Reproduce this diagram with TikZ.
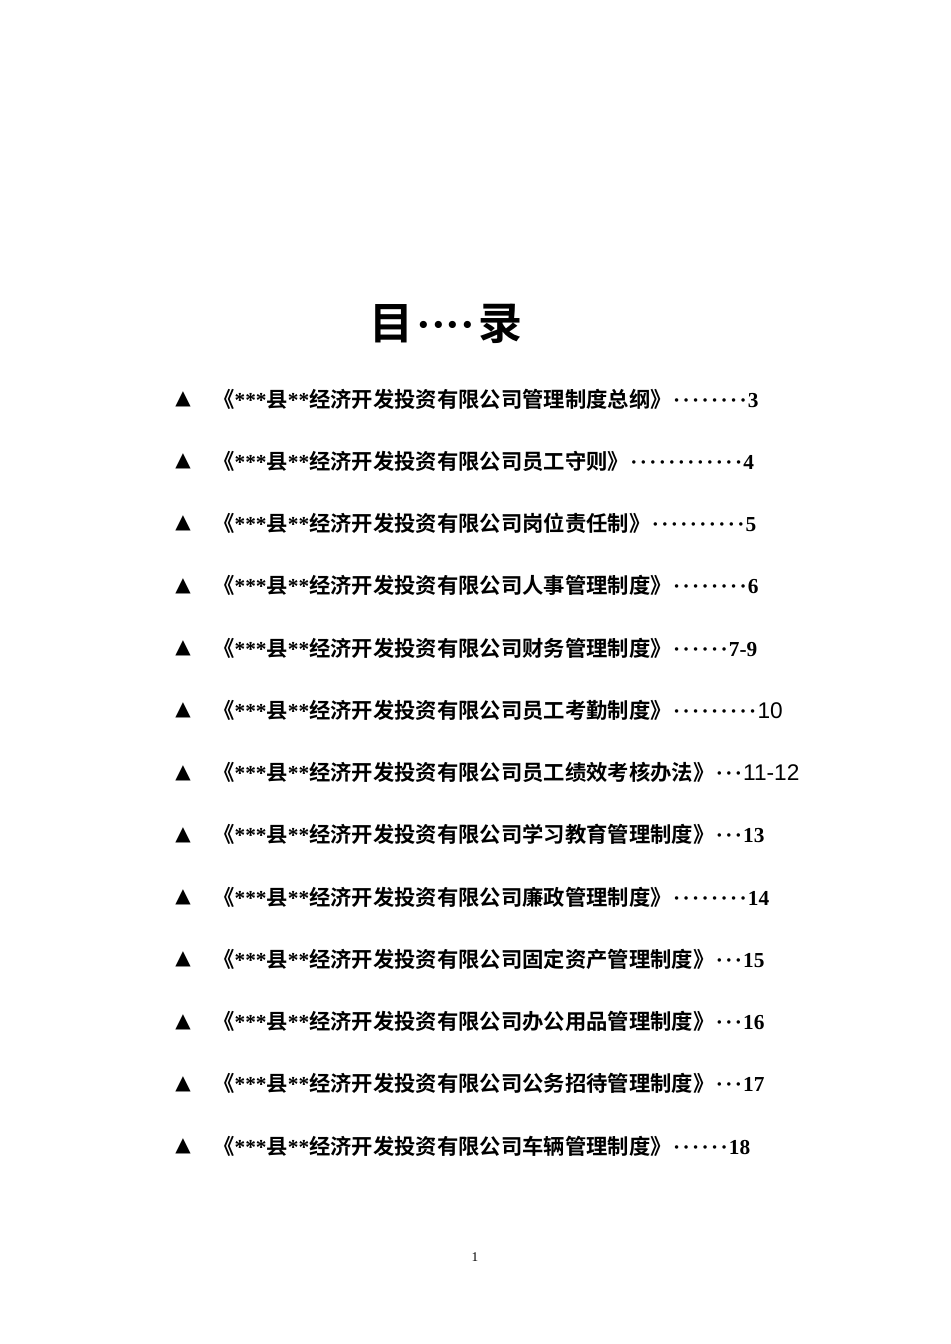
\documentclass[tikz,border=0pt]{standalone}
\usepackage{fontspec}
\setmainfont{Liberation Serif}
\newfontfamily\cjk{Noto Sans CJK SC}[BoldFont={Noto Sans CJK SC Bold}]
\newfontfamily\dvs{DejaVu Sans}
\newfontfamily\lsans{Liberation Sans}
\newcommand\mydd[1]{{\rmfamily\bfseries\foreach \i in {1,...,#1}{\kern0.9pt·\kern0.9pt}}}
\newcommand\myast{{\rmfamily\bfseries ***}}
\newcommand\myrow[3]{\node[rowtext] at (213,#1) {\cjk\bfseries 《\myast 县{\rmfamily\bfseries **}经济开发投资有限公司#2》#3};}
\begin{document}
\begin{tikzpicture}[x=0.75pt,y=-0.75pt,
  rowtext/.style={anchor=west,inner sep=0pt,font=\fontsize{16}{19}\selectfont},
  tri/.style={inner sep=0pt,font=\dvs\fontsize{15}{18}\selectfont}]
\useasboundingbox (0,0) rectangle (950,1344);
\node[inner sep=0pt,font=\cjk\bfseries\fontsize{33}{38}\selectfont] (t) at (446,324) {目{\rmfamily\bfseries\kern2pt ····\kern2pt}录};
\foreach \k in {0,...,12}{\node[tri] (tr\k) at (183,{399+62.3*\k}) {▲};}
\myrow{399}{管理制度总纲}{\mydd{8}{\rmfamily\bfseries 3}}
\myrow{461}{员工守则}{\mydd{12}{\rmfamily\bfseries 4}}
\myrow{523}{岗位责任制}{\mydd{10}{\rmfamily\bfseries 5}}
\myrow{585}{人事管理制度}{\mydd{8}{\rmfamily\bfseries 6}}
\myrow{648}{财务管理制度}{\mydd{6}{\rmfamily\bfseries 7-9}}
\myrow{710}{员工考勤制度}{\mydd{9}{\lsans\mdseries\fontsize{17}{19}\selectfont 10}}
\myrow{772}{员工绩效考核办法}{\mydd{3}{\lsans\mdseries\fontsize{17}{19}\selectfont 11-12}}
\myrow{834}{学习教育管理制度}{\mydd{3}{\rmfamily\bfseries 13}}
\myrow{897}{廉政管理制度}{\mydd{8}{\rmfamily\bfseries 14}}
\myrow{959}{固定资产管理制度}{\mydd{3}{\rmfamily\bfseries 15}}
\myrow{1021}{办公用品管理制度}{\mydd{3}{\rmfamily\bfseries 16}}
\myrow{1083}{公务招待管理制度}{\mydd{3}{\rmfamily\bfseries 17}}
\myrow{1146}{车辆管理制度}{\mydd{6}{\rmfamily\bfseries 18}}
\node[font=\fontsize{10}{12}\selectfont] (pg) at (475,1257) {1};
\end{tikzpicture}
\end{document}
